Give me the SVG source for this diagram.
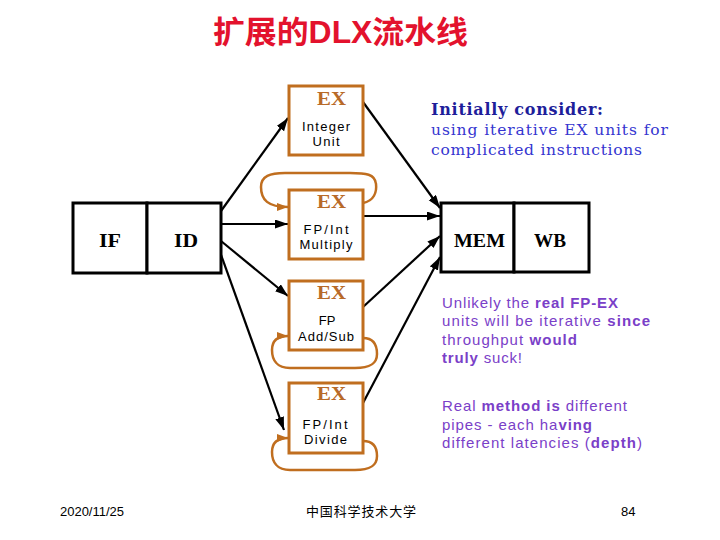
<svg xmlns="http://www.w3.org/2000/svg" width="720" height="540" viewBox="0 0 720 540">
<style>
.bg{fill:#ffffff}
.stage{fill:#ffffff;stroke:#000000;stroke-width:3}
.exbox{fill:#ffffff;stroke:#c06e1f;stroke-width:3}
.stxt{font-family:"Liberation Serif","Times New Roman",serif;font-weight:bold;font-size:18px;fill:#000000;text-anchor:middle}
.extxt{font-family:"Liberation Serif","Times New Roman",serif;font-weight:bold;font-size:19px;fill:#b86a28;text-anchor:middle}
.lbl{font-family:"Liberation Sans",Arial,sans-serif;font-size:13px;fill:#000000;text-anchor:middle}
.arrow{fill:none;stroke:#000000;stroke-width:2.2;marker-end:url(#ah)}
.loop{fill:none;stroke:#c06e1f;stroke-width:2.5;marker-end:url(#ahO)}
.title{font-family:"Liberation Sans","Noto Sans CJK SC",sans-serif;font-weight:bold;font-size:31px;fill:#e3122d}
.blueb{font-family:"DejaVu Serif","Liberation Serif",serif;font-weight:bold;font-size:16px;fill:#1e1e9a}
.blue{font-family:"DejaVu Serif","Liberation Serif",serif;font-size:15.5px;fill:#3535d0}
.purp{font-family:"Liberation Sans",Arial,sans-serif;font-size:15px;fill:#7a40c8}
.purp .b{font-weight:bold}
.foot{font-family:"Liberation Sans","Noto Sans CJK SC",sans-serif;font-size:13px;fill:#000000}
</style>
<defs>
<marker id="ah" markerUnits="userSpaceOnUse" markerWidth="14" markerHeight="10" refX="13" refY="4.5" orient="auto">
<path d="M0,0 L13,4.5 L0,9 z" fill="#000000"/>
</marker>
<marker id="ahO" markerUnits="userSpaceOnUse" markerWidth="12" markerHeight="9" refX="11" refY="4" orient="auto">
<path d="M0,0 L11,4 L0,8 z" fill="#c06e1f"/>
</marker>
</defs>
<rect class="bg" x="0" y="0" width="720" height="540"/>

<g id="title">
<text class="title" x="213" y="43" textLength="255" lengthAdjust="spacingAndGlyphs">扩展的DLX流水线</text>
</g>

<g id="connectors">
<path class="arrow" d="M221,211 L288,118"/>
<path class="arrow" d="M221,224 L288,224"/>
<path class="arrow" d="M221,241 L288,296"/>
<path class="arrow" d="M220,252 L284,430"/>
<path class="arrow" d="M363,102 L440,208"/>
<path class="arrow" d="M363,216 L440,216"/>
<path class="arrow" d="M363,307 L440,236"/>
<path class="arrow" d="M363,403 L440,257"/>
<path class="loop" d="M363,203 C374,201 377,192 376,184 C375,174 366,173 350,173 L285,173 C270,173 261,176 261,187 C261,200 268,207 288,207"/>
<path class="loop" d="M363,338 C374,338 377,346 377,354 C377,364 370,368 355,368 L290,368 C277,368 272,360 272,350 C272,340 278,336 288,336"/>
<path class="loop" d="M363,441 C374,441 377,448 377,456 C377,466 370,470 355,470 L290,470 C277,470 272,462 272,452 C272,442 278,438 288,438"/>
</g>

<g id="node-if">
<rect class="stage" x="73" y="203" width="74" height="70"/>
<text class="stxt" x="110" y="247" textLength="22" lengthAdjust="spacingAndGlyphs">IF</text>
</g>
<g id="node-id">
<rect class="stage" x="147" y="203" width="74" height="70"/>
<text class="stxt" x="186" y="247" textLength="24" lengthAdjust="spacingAndGlyphs">ID</text>
</g>

<g id="node-ex-int">
<rect class="exbox" x="289" y="86" width="74" height="69"/>
<text class="extxt" x="331.5" y="105" textLength="29" lengthAdjust="spacingAndGlyphs">EX</text>
<text class="lbl" x="326" y="131" textLength="48">Integer</text>
<text class="lbl" x="326" y="146" textLength="27">Unit</text>
</g>

<g id="node-ex-mul">
<rect class="exbox" x="289" y="190" width="74" height="69"/>
<text class="extxt" x="331.5" y="208" textLength="29" lengthAdjust="spacingAndGlyphs">EX</text>
<text class="lbl" x="326" y="234" textLength="45">FP/Int</text>
<text class="lbl" x="326" y="249" textLength="53">Multiply</text>
</g>

<g id="node-ex-add">
<rect class="exbox" x="289" y="281" width="74" height="69"/>
<text class="extxt" x="331.5" y="299" textLength="29" lengthAdjust="spacingAndGlyphs">EX</text>
<text class="lbl" x="327" y="325">FP</text>
<text class="lbl" x="326" y="341" textLength="56">Add/Sub</text>
</g>

<g id="node-ex-div">
<rect class="exbox" x="289" y="383" width="74" height="70"/>
<text class="extxt" x="331.5" y="400" textLength="29" lengthAdjust="spacingAndGlyphs">EX</text>
<text class="lbl" x="325" y="429" textLength="45">FP/Int</text>
<text class="lbl" x="325.5" y="444" textLength="43">Divide</text>
</g>

<g id="node-mem">
<rect class="stage" x="441" y="203" width="73" height="69"/>
<text class="stxt" x="479.5" y="247" textLength="51" lengthAdjust="spacingAndGlyphs">MEM</text>
</g>
<g id="node-wb">
<rect class="stage" x="514" y="203" width="75" height="69"/>
<text class="stxt" x="550" y="247" textLength="32" lengthAdjust="spacingAndGlyphs">WB</text>
</g>

<g id="note-initial">
<text class="blueb" x="431" y="115" textLength="172">Initially consider:</text>
<text class="blue" x="431" y="135" textLength="237">using iterative EX units for</text>
<text class="blue" x="431" y="155" textLength="211">complicated instructions</text>
</g>

<g id="note-unlikely" class="purp">
<text x="442" y="308" textLength="176">Unlikely the <tspan class="b">real FP-EX</tspan></text>
<text x="442" y="326" textLength="208">units will be iterative <tspan class="b">since</tspan></text>
<text x="442" y="345" textLength="135">throughput <tspan class="b">would</tspan></text>
<text x="442" y="363" textLength="80"><tspan class="b">truly</tspan> suck!</text>
<text x="442" y="411" textLength="185">Real <tspan class="b">method is</tspan> different</text>
<text x="442" y="430" textLength="150">pipes - each ha<tspan class="b">ving</tspan></text>
<text x="442" y="448" textLength="200">different latencies (<tspan class="b">depth</tspan>)</text>
</g>

<g id="footer">
<text class="foot" x="60" y="516" textLength="64">2020/11/25</text>
<text class="foot" x="306" y="516" textLength="110">中国科学技术大学</text>
<text class="foot" x="621" y="516">84</text>
</g>
</svg>
